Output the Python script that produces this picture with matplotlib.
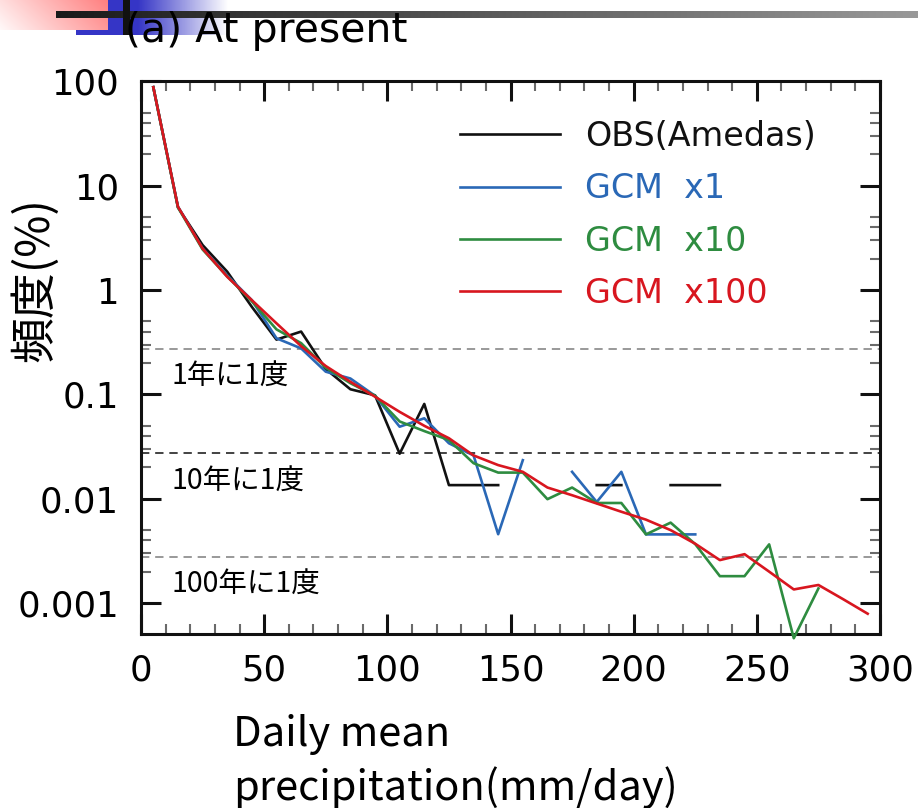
import numpy as np
import matplotlib
matplotlib.use("Agg")
import matplotlib.pyplot as plt
from matplotlib.ticker import FixedLocator, FixedFormatter, MultipleLocator, LogLocator, NullFormatter

# Bin centres of daily mean precipitation (mm/day)
bins = [5, 15, 25, 35, 45, 55, 65, 75, 85, 95, 105, 115, 125, 135, 145,
        155, 165, 175, 185, 195, 205, 215, 225, 235, 245, 255, 265, 275, 285, 295]

nan = np.nan
# Frequency (%) per bin; NaN where no day fell into the bin
obs_amedas = [88, 6.2, 2.7, 1.5, 0.69, 0.335, 0.40, 0.175, 0.112, 0.098, 0.027, 0.081,
              0.0135, 0.0135, 0.0135, nan, nan, nan, 0.0135, 0.0135, nan, 0.0135, 0.0135,
              0.0135, nan, nan, nan, nan, nan, nan]
gcm_x1 = [88, 6.3, 2.5, 1.38, 0.80, 0.345, 0.276, 0.165, 0.142, 0.097, 0.049, 0.059,
          0.034, 0.026, 0.00457, 0.0234, nan, 0.0181, 0.0093, 0.0181, 0.00455, 0.00455,
          0.00455, nan, nan, nan, nan, nan, nan, nan]
gcm_x10 = [88, 6.2, 2.45, 1.35, 0.78, 0.42, 0.31, 0.18, 0.128, 0.097, 0.055, 0.0445,
           0.0365, 0.0219, 0.0178, 0.0178, 0.0099, 0.0128, 0.0091, 0.0091, 0.00455, 0.0059,
           0.00367, 0.00181, 0.00181, 0.00365, 0.00046, 0.00138, nan, nan]
gcm_x100 = [88, 6.3, 2.5, 1.34, 0.80, 0.48, 0.29, 0.187, 0.132, 0.095, 0.068, 0.050,
            0.038, 0.026, 0.021, 0.0181, 0.0128, 0.0108, 0.0090, 0.0075, 0.0063, 0.0050,
            0.0037, 0.00258, 0.00294, 0.0020, 0.00135, 0.00149, 0.00109, 0.00079]

series_labels = ["OBS(Amedas)", "GCM  x1", "GCM  x10", "GCM  x100"]
series_colors = ["#111111", "#2a68b6", "#2e8c40", "#d8161f"]

# Return-period reference levels: once per 1, 10, 100 years
return_levels = [100 / 365, 100 / 3650, 100 / 36500]
return_labels = ["1年に1度", "10年に1度", "100年に1度"]
return_colors = ["#888888", "#222222", "#888888"]
return_text_y = [0.147, 0.0144, 0.00149]

ytick_vals = [0.001, 0.01, 0.1, 1, 10, 100]
ytick_labels = ["0.001", "0.01", "0.1", "1", "10", "100"]
xtick_vals = [0, 50, 100, 150, 200, 250, 300]

W, H = 918, 808
fig = plt.figure(figsize=(W / 100, H / 100), dpi=100)

# Slide header decoration strip
deco = fig.add_axes([0, 0, 1, 1], zorder=0)
deco.set_xlim(0, W)
deco.set_ylim(H, 0)
deco.axis("off")

# blue block fading to white
bw = np.linspace(0, 1, 200)
alpha_b = np.clip(1 - (bw - 0.38) / 0.55, 0, 1)
blue_img = np.zeros((1, 200, 4))
blue_img[..., 0] = 0.21
blue_img[..., 1] = 0.21
blue_img[..., 2] = 0.78
blue_img[..., 3] = alpha_b
deco.imshow(blue_img, extent=(76, 240, 35, 0), aspect="auto", interpolation="bilinear", zorder=1)

# pink block, stronger to the right
pw = np.linspace(0, 1, 120)
ph = np.linspace(0, 1, 40)
PX, PY = np.meshgrid(pw, ph)
pink_strength = np.clip(0.25 + 0.75 * PX - 0.2 * PY, 0, 1)
pink_img = np.ones((40, 120, 3))
pink_img[..., 1] = 1 - 0.5 * pink_strength
pink_img[..., 2] = 1 - 0.5 * pink_strength
deco.imshow(pink_img, extent=(0, 108, 30, 0), aspect="auto", interpolation="bilinear", zorder=2)

# horizontal bar, black to grey
gw = np.linspace(0.10, 0.60, 300)
bar_img = np.stack([gw, gw, gw], axis=-1)[None, :, :]
deco.imshow(bar_img, extent=(56, W, 18.5, 12), aspect="auto", interpolation="bilinear", zorder=3)
# vertical bar
deco.fill_between([123, 130], 0, 35, color="#111111", lw=0, zorder=4)

fig.text(125 / W, 1 - 31 / H, "(a) At present", fontsize=29.5, family="DejaVu Sans",
         ha="left", va="center", zorder=10)

# Main axes
ax = fig.add_axes([141 / W, 1 - 634 / H, (880 - 141) / W, (634 - 81.4) / H], zorder=2)
ax.set_yscale("log")
ax.set_xlim(0, 300)
ax.set_ylim(0.000505, 100)

for lvl, col, lab, ty in zip(return_levels, return_colors, return_labels, return_text_y):
    ax.axhline(lvl, color=col, lw=1.2, dashes=(5, 3.5), zorder=1)
    ax.text(12.2, ty, lab, fontsize=20.5, family="Noto Sans CJK JP", ha="left", va="center")

for vals, lab, col in zip([obs_amedas, gcm_x1, gcm_x10, gcm_x100], series_labels, series_colors):
    ax.plot(bins, vals, color=col, lw=1.9, label=lab, zorder=3,
            clip_on=(lab != "GCM  x10"))

ax.yaxis.set_major_locator(FixedLocator(ytick_vals))
ax.yaxis.set_major_formatter(FixedFormatter(ytick_labels))
ax.yaxis.set_minor_locator(LogLocator(base=10, subs=[2, 3, 4, 5]))
ax.yaxis.set_minor_formatter(NullFormatter())
ax.xaxis.set_major_locator(FixedLocator(xtick_vals))
ax.xaxis.set_minor_locator(MultipleLocator(10))

ax.tick_params(which="major", direction="in", length=14.4, width=2.2, top=True, right=True,
               labelsize=25.5, color="#111111")
ax.tick_params(axis="y", which="major", pad=16)
ax.tick_params(axis="x", which="major", pad=14)
ax.tick_params(which="minor", direction="in", length=7, width=1.5, top=True, right=True,
               color="#6a6a6a")
for lab in ax.get_xticklabels() + ax.get_yticklabels():
    lab.set_family("DejaVu Sans")
for sp in ax.spines.values():
    sp.set_linewidth(2.2)
    sp.set_color("#111111")

ax.set_xlabel("Daily mean\nprecipitation(mm/day)", fontsize=30, family="Noto Sans CJK JP",
              ha="left", multialignment="left", linespacing=1.32)
ax.xaxis.set_label_coords((233 - 141) / (880 - 141), -(714 - 634) / (634 - 81.4))

fig.text(35 / W, 1 - 280 / H, "頻度(%)", fontsize=33, family="Noto Sans CJK JP",
         rotation=90, ha="center", va="center")

leg = ax.legend(loc="upper left", bbox_to_anchor=((460 - 141) / (880 - 141), (634 - 120) / (634 - 81.4)),
                frameon=False, borderpad=0, borderaxespad=0, handlelength=3.0,
                handletextpad=0.75, labelspacing=0.58, prop={"family": "DejaVu Sans", "size": 24},
                labelcolor="linecolor")
for h in leg.get_lines():
    h.set_linewidth(1.9)

fig.savefig("out.png", dpi=100, facecolor="white")
